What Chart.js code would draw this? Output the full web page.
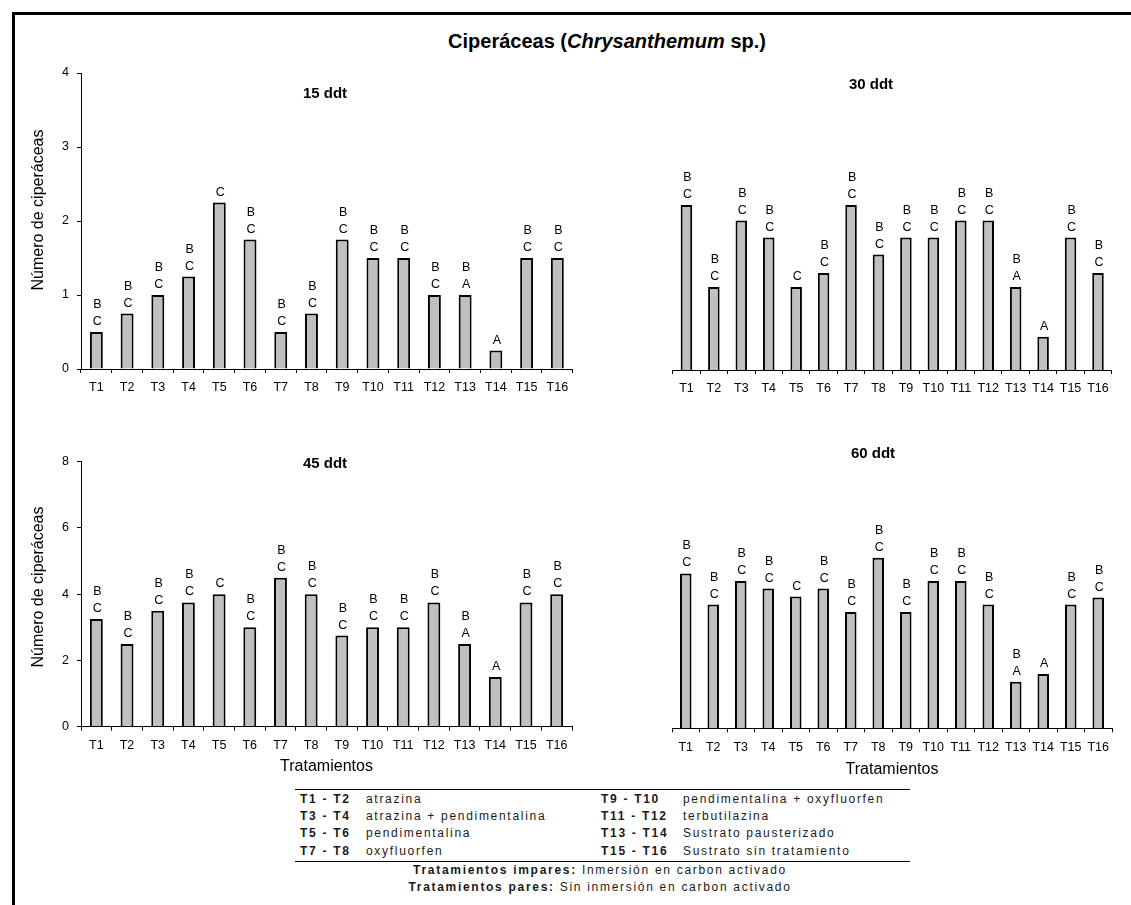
<!DOCTYPE html>
<html>
<head>
<meta charset="utf-8">
<script src="https://cdn.jsdelivr.net/npm/chart.js@4.4.1/dist/chart.umd.min.js"></script>
<style>
  body { margin: 0; background: #fff; width: 1131px; height: 905px; position: relative; overflow: hidden;
         font-family: Arial, "Liberation Sans", sans-serif; color: #000; }
  .frame { position: absolute; left: 12px; top: 12px; width: 1200px; height: 1000px;
           border-left: 3px solid #000; border-top: 3px solid #000; }
  .box { position: absolute; }
  .title { position: absolute; left: 407px; width: 400px; top: 29px; text-align: center;
           font-weight: bold; font-size: 20px; line-height: 24px; white-space: nowrap; }
  .sub { position: absolute; width: 100px; margin-left: -50px; text-align: center;
         font-weight: bold; font-size: 15px; line-height: 18px; }
  .ytitle { position: absolute; width: 240px; height: 20px; line-height: 20px; text-align: center;
            font-size: 16px; transform: rotate(-90deg); white-space: nowrap; }
  .leg { position: absolute; font-size: 12px; line-height: 15px; letter-spacing: 1.7px; color: #1a1a1a; white-space: nowrap; }
  .rule { position: absolute; left: 295px; width: 615px; height: 0; border-top: 1.6px solid #000; }
</style>
</head>
<body>
<div class="frame"></div>
<div class="title">Ciperáceas (<i>Chrysanthemum</i> sp.)</div>

<div class="box" style="left:20px;top:55px;width:560px;height:350px"><canvas id="c15"></canvas></div>
<div class="box" style="left:590px;top:55px;width:540px;height:350px"><canvas id="c30"></canvas></div>
<div class="box" style="left:20px;top:440px;width:560px;height:350px"><canvas id="c45"></canvas></div>
<div class="box" style="left:590px;top:440px;width:540px;height:350px"><canvas id="c60"></canvas></div>

<div class="sub" style="left:325px;top:84px">15 ddt</div>
<div class="sub" style="left:871px;top:75px">30 ddt</div>
<div class="sub" style="left:325px;top:454px">45 ddt</div>
<div class="sub" style="left:873px;top:444px">60 ddt</div>

<div class="ytitle" style="left:-82px;top:200px">Número de ciperáceas</div>
<div class="ytitle" style="left:-82px;top:577px">Número de ciperáceas</div>

<div id="legend"></div>

<script>
// treatments on the x axis
const categories = ['T1', 'T2', 'T3', 'T4', 'T5', 'T6', 'T7', 'T8', 'T9', 'T10', 'T11', 'T12', 'T13', 'T14', 'T15', 'T16'];

// number of sedges per treatment
const ddt15 = [0.5, 0.75, 1, 1.25, 2.25, 1.75, 0.5, 0.75, 1.75, 1.5, 1.5, 1, 1, 0.25, 1.5, 1.5];
const ddt30 = [2.23, 1.12, 2.02, 1.79, 1.12, 1.31, 2.23, 1.56, 1.79, 1.79, 2.02, 2.02, 1.12, 0.45, 1.79, 1.31];
const ddt45 = [3.25, 2.5, 3.5, 3.75, 4, 3, 4.5, 4, 2.75, 3, 3, 3.75, 2.5, 1.5, 3.75, 4];
const ddt60 = [4.68, 3.74, 4.45, 4.22, 3.98, 4.22, 3.51, 5.15, 3.51, 4.45, 4.45, 3.74, 1.41, 1.64, 3.74, 3.95];

// significance letters above each bar (top letter first)
const letters15 = ['BC', 'BC', 'BC', 'BC', 'C', 'BC', 'BC', 'BC', 'BC', 'BC', 'BC', 'BC', 'BA', 'A', 'BC', 'BC'];
const letters30 = ['BC', 'BC', 'BC', 'BC', 'C', 'BC', 'BC', 'BC', 'BC', 'BC', 'BC', 'BC', 'BA', 'A', 'BC', 'BC'];
const letters45 = ['BC', 'BC', 'BC', 'BC', 'C', 'BC', 'BC', 'BC', 'BC', 'BC', 'BC', 'BC', 'BA', 'A', 'BC', 'BC'];
const letters60 = ['BC', 'BC', 'BC', 'BC', 'C', 'BC', 'BC', 'BC', 'BC', 'BC', 'BC', 'BC', 'BA', 'A', 'BC', 'BC'];

// y axis ticks
const yTicksTop = [0, 1, 2, 3, 4];
const yTicksBottom = [0, 2, 4, 6, 8];

// legend table
const legendCodesLeft = ['T1 - T2', 'T3 - T4', 'T5 - T6', 'T7 - T8'];
const legendNamesLeft = ['atrazina', 'atrazina + pendimentalina', 'pendimentalina', 'oxyfluorfen'];
const legendCodesRight = ['T9 - T10', 'T11 - T12', 'T13 - T14', 'T15 - T16'];
const legendNamesRight = ['pendimentalina + oxyfluorfen', 'terbutilazina', 'Sustrato pausterizado', 'Sustrato sin tratamiento'];
const footnoteKeys = ['Tratamientos impares:', 'Tratamientos pares:'];
const footnoteTexts = [' Inmersión en carbon activado', ' Sin inmersión en carbon activado'];

const FONT = 'Arial, "Liberation Sans", sans-serif';

// draws the stacked letters above the bars
const letterPlugin = {
    id: 'letters',
    afterDatasetsDraw(chart, args, opts) {
        const ctx = chart.ctx;
        const meta = chart.getDatasetMeta(0);
        ctx.save();
        ctx.font = '12.5px ' + FONT;
        ctx.fillStyle = '#000';
        ctx.textAlign = 'center';
        ctx.textBaseline = 'alphabetic';
        meta.data.forEach((bar, i) => {
            const chars = opts.marks[i].split('').reverse();
            chars.forEach((ch, k) => ctx.fillText(ch, bar.x + 1, bar.y - 7 - k * 17));
        });
        ctx.restore();
    }
};

function makeChart(id, values, marks, cfg) {
    const ticks = cfg.yTicks;
    return new Chart(document.getElementById(id), {
        type: 'bar',
        data: {
            labels: categories,
            datasets: [{
                data: values,
                backgroundColor: '#c0c0c0',
                borderColor: '#000',
                borderWidth: 2,
                borderSkipped: 'bottom',
                barPercentage: 0.42,
                categoryPercentage: 1
            }]
        },
        plugins: [letterPlugin],
        options: {
            responsive: true,
            maintainAspectRatio: false,
            animation: false,
            layout: { padding: cfg.padding },
            plugins: {
                legend: { display: false },
                tooltip: { enabled: false },
                letters: { marks }
            },
            scales: {
                x: {
                    offset: true,
                    grid: { offset: true, drawOnChartArea: false, drawTicks: true, tickLength: 4, color: '#000', lineWidth: 1 },
                    border: { display: true, color: '#000', width: 1 },
                    ticks: { color: '#000', font: { size: 12.5, family: FONT }, padding: 7.5, maxRotation: 0, autoSkip: false },
                    title: cfg.xTitle ? {
                        display: true, text: 'Tratamientos', color: '#000',
                        font: { size: 16, family: FONT }, padding: { top: 0, bottom: cfg.xTitlePad }
                    } : { display: false },
                    afterFit: s => { s.height = cfg.xHeight; }
                },
                y: {
                    display: cfg.showY,
                    min: 0,
                    max: ticks[ticks.length - 1],
                    afterBuildTicks: s => { s.ticks = ticks.map(v => ({ value: v })); },
                    grid: { drawOnChartArea: false, drawTicks: true, tickLength: 4, color: '#000' },
                    border: { display: true, color: '#000', width: 1 },
                    ticks: { color: '#000', font: { size: 12.5, family: FONT }, padding: 8 },
                    afterFit: s => { s.width = 61; }
                }
            }
        }
    });
}

makeChart('c15', ddt15, letters15, { yTicks: yTicksTop, showY: true, xTitle: false, xHeight: 36,
    padding: { left: 0, right: 7.3, top: 18, bottom: 0 } });
makeChart('c30', ddt30, letters30, { yTicks: yTicksTop, showY: false, xTitle: false, xHeight: 35,
    padding: { left: 21.7, right: 18.3, top: 19, bottom: 0 } });
makeChart('c45', ddt45, letters45, { yTicks: yTicksBottom, showY: true, xTitle: true, xTitlePad: 13.4, xHeight: 63.3,
    padding: { left: 0, right: 8, top: 21.7, bottom: 0 } });
makeChart('c60', ddt60, letters60, { yTicks: yTicksBottom, showY: false, xTitle: true, xTitlePad: 10.4, xHeight: 61.7,
    padding: { left: 21, right: 18, top: 23.5, bottom: 0 } });

// legend table below the charts
const legend = document.getElementById('legend');
const rowY = [791.5, 808.5, 825.5, 843.5];
function addSpan(html, left, top, center) {
    const el = document.createElement('div');
    el.className = 'leg';
    el.style.top = top + 'px';
    if (center) {
        el.style.left = '400px';
        el.style.width = '400px';
        el.style.textAlign = 'center';
    } else {
        el.style.left = left + 'px';
    }
    el.innerHTML = html;
    legend.appendChild(el);
}
rowY.forEach((y, i) => {
    addSpan('<b>' + legendCodesLeft[i] + '</b>', 300, y);
    addSpan(legendNamesLeft[i], 366, y);
    addSpan('<b>' + legendCodesRight[i] + '</b>', 601, y);
    addSpan(legendNamesRight[i], 683, y);
});
addSpan('<b>' + footnoteKeys[0] + '</b>' + footnoteTexts[0], 0, 862.5, true);
addSpan('<b>' + footnoteKeys[1] + '</b>' + footnoteTexts[1], 0, 879.5, true);
['789px', '861px'].forEach(t => {
    const r = document.createElement('div');
    r.className = 'rule';
    r.style.top = t;
    legend.appendChild(r);
});
</script>
</body>
</html>
